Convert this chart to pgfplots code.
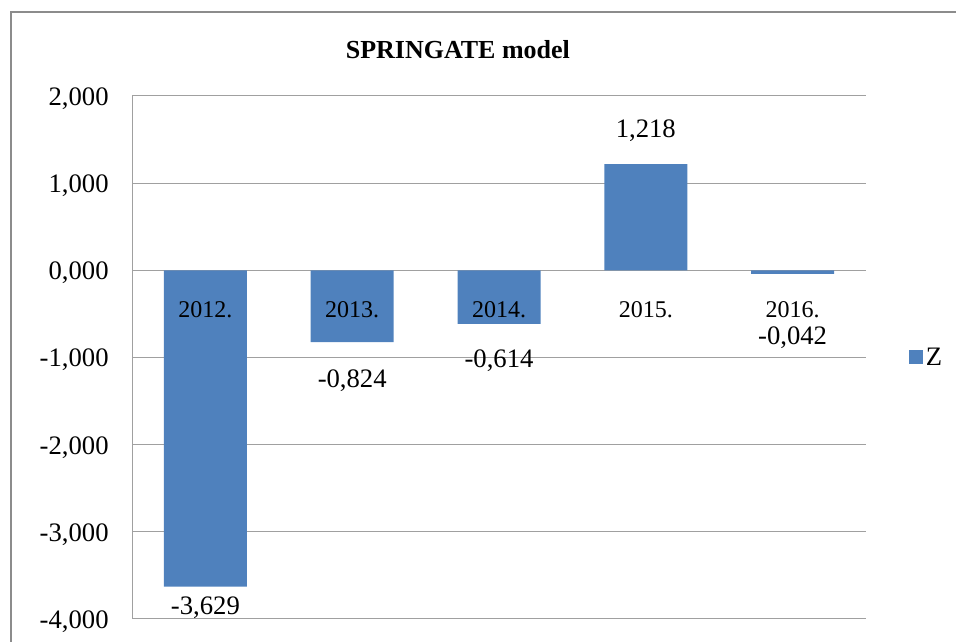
\documentclass[border=0pt]{standalone}
\usepackage{fontspec}
\setmainfont{Liberation Serif}
\usepackage{pgfplots}
\pgfplotsset{compat=1.18}
\definecolor{barblue}{HTML}{4F81BD}
\definecolor{gridgray}{HTML}{A0A0A0}
\definecolor{framegray}{HTML}{8C8C8C}
\pgfplotstableread{
x y label
0 -3.87 -3,629
1 -1.262 -0,824
2 -1.032 -0,614
3 1.606 1,218
4 -0.769 -0,042
}\labeltable
\pgfplotstableread{
x y year
0 -0.45 2012.
1 -0.45 2013.
2 -0.45 2014.
3 -0.45 2015.
4 -0.45 2016.
}\yeartable
\begin{document}
\begin{tikzpicture}
\path (0pt,0pt) rectangle (717pt,481.5pt);
\draw[overlay, framegray, line width=1.5pt] (8.25pt,-20pt) -- (8.25pt,472.5pt) -- (740pt,472.5pt);
\begin{axis}[
  at={(99pt,17.25pt)}, anchor=south west,
  scale only axis, width=550.5pt, height=392.25pt,
  xmin=-0.5, xmax=4.5, ymin=-4, ymax=2,
  ytick={-4,-3,-2,-1,0,1,2},
  xtick={0,1,2,3,4},
  xticklabels={},
  axis lines=left,
  axis line style={gridgray, -, line width=0.75pt},
  major tick length=0pt,
  ymajorgrids, grid style={gridgray, line width=0.75pt},
  /pgf/number format/.cd, use comma, fixed, fixed zerofill, precision=3, 1000 sep={}, assume math mode=true,
  /pgfplots/.cd,
  yticklabel style={font=\fontsize{20}{23}\selectfont, xshift=-14pt, yshift=-2pt},
  title={SPRINGATE model},
  title style={at={(0.444,1.074)}, anchor=center, font=\bfseries\fontsize{19.5}{22}\selectfont},
  legend style={at={(1.053,0.5)}, anchor=west, draw=none, fill=none, font=\fontsize{20}{23}\selectfont},
  legend image code/.code={\fill[barblue] (0pt,-5.25pt) rectangle (10.5pt,5.25pt);},
]
\addplot[ybar, bar width=62.25pt, fill=barblue, draw=none] coordinates {(0,-3.629) (1,-0.824) (2,-0.614) (3,1.218) (4,-0.042)};
\addlegendentry{Z}
\addplot[only marks, mark=none, forget plot, nodes near coords, point meta=explicit symbolic,
  nodes near coords style={anchor=center, font=\fontsize{18}{21}\selectfont}]
  table[x=x, y=y, meta=year] {\yeartable};
\addplot[only marks, mark=none, forget plot, nodes near coords, point meta=explicit symbolic,
  nodes near coords style={anchor=center, font=\fontsize{20}{23}\selectfont}]
  table[x=x, y=y, meta=label] {\labeltable};
\end{axis}
\end{tikzpicture}
\end{document}
